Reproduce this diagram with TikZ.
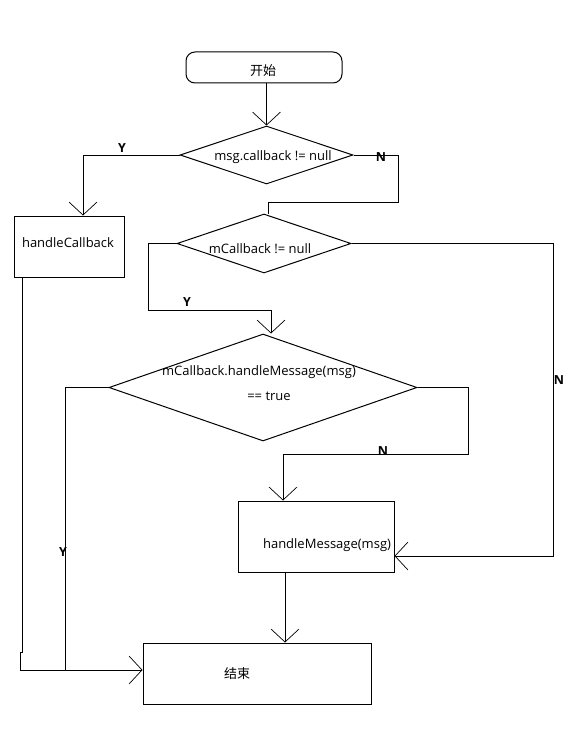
\documentclass[tikz,border=0pt]{standalone}
\usepackage{fontspec}
\setmainfont{Open Sans}
\newfontfamily\cjk{Noto Sans CJK SC}
\usetikzlibrary{shapes.geometric,arrows.meta}
\newcommand{\flowtext}[3]{\raisebox{#2}[0pt][0pt]{\makebox[0pt]{\hspace{#1}\hspace{#1}#3}}}
\tikzset{
	flownode/.style = {align=center, inner sep=0pt, text centered, font=\fontsize{13}{15}\selectfont},
	startnode/.style = {flownode, draw=black, rounded corners=9pt, minimum width=156pt, minimum height=31pt},
	decision/.style = {flownode, diamond, draw=black},
	process/.style = {flownode, draw=black},
	branch/.style = {font=\bfseries\fontsize{12.5}{14}\selectfont, inner sep=0pt}
}

\begin{document}
\begin{tikzpicture}[x=1pt, y=-1pt,
			>={Straight Barb[length=13pt, width=28pt, line width=0.7pt]},
			every path/.style={line width=1pt}
		]
		\useasboundingbox (0,0) rectangle (588,741);
		\node [startnode] (start) at (264,67.5) {\flowtext{-1pt}{-8pt}{\cjk 开始}};
		\node [decision, minimum width=173pt, minimum height=58pt] (d1) at (266.5,155) {\flowtext{6.5pt}{-5pt}{msg.callback != null}};
		\node [decision, minimum width=174pt, minimum height=59pt] (d2) at (264,243.5) {\flowtext{-4pt}{-9.5pt}{mCallback != null}};
		\node [decision, minimum width=308pt, minimum height=107pt] (d3) at (263,387.5) {\flowtext{-4pt}{12.5pt}{mCallback.handleMessage(msg)}\flowtext{6pt}{-12.5pt}{== true}};
		\node [process, minimum width=110pt, minimum height=61pt] (hc) at (69,246.5) {\flowtext{-1pt}{-0.5pt}{handleCallback}};
		\node [process, minimum width=156pt, minimum height=71pt] (hm) at (316,536.5) {\flowtext{11pt}{-11.5pt}{handleMessage(msg)}};
		\node [process, minimum width=228pt, minimum height=61pt] (end) at (257,673.5) {\flowtext{-20pt}{-4.5pt}{\cjk 结束}};
		\coordinate (n1a) at (398,202);
		\coordinate (y2a) at (148,310);
		\coordinate (y2b) at (271,310);
		\coordinate (n2a) at (553,556);
		\coordinate (n3a) at (468,454);
		\coordinate (n3b) at (283,454);
		\coordinate (y3a) at (65,670);
		\coordinate (hca) at (22,652);
		\coordinate (hcb) at (20,652);
		\draw [->] (d1.north |- start.south) -- (d1.north);
		\draw [->] (d1.west) -| ([xshift=14pt]hc.north);
		\draw (d1.east) -| (n1a) -| ([xshift=4pt]d2.north);
		\draw [->] (d2.west) -| (y2a) -- (y2b) -- (y2b |- d3.north);
		\draw [->] (d2.east) -| (n2a) -- (n2a -| hm.east);
		\draw [->] (d3.east) -| (n3a) -- (n3b) -- (n3b |- hm.north);
		\draw [->] (d3.west) -| (y3a) -- (y3a -| end.west);
		\draw (hca |- hc.south) -- (hca) -- (hcb) -- (hcb |- y3a) -- (y3a);
		\draw [->] ([xshift=-31pt]hm.south) -- ([xshift=-31pt]hm.south |- end.north);
		\node [branch] (y1) at (122,148) {Y};
		\node [branch] (n1) at (381,157) {N};
		\node [branch] (y2) at (187,302) {Y};
		\node [branch] (n2) at (559,380) {N};
		\node [branch] (n3) at (383,451) {N};
		\node [branch] (y3) at (63,552) {Y};
\end{tikzpicture}
\end{document}
